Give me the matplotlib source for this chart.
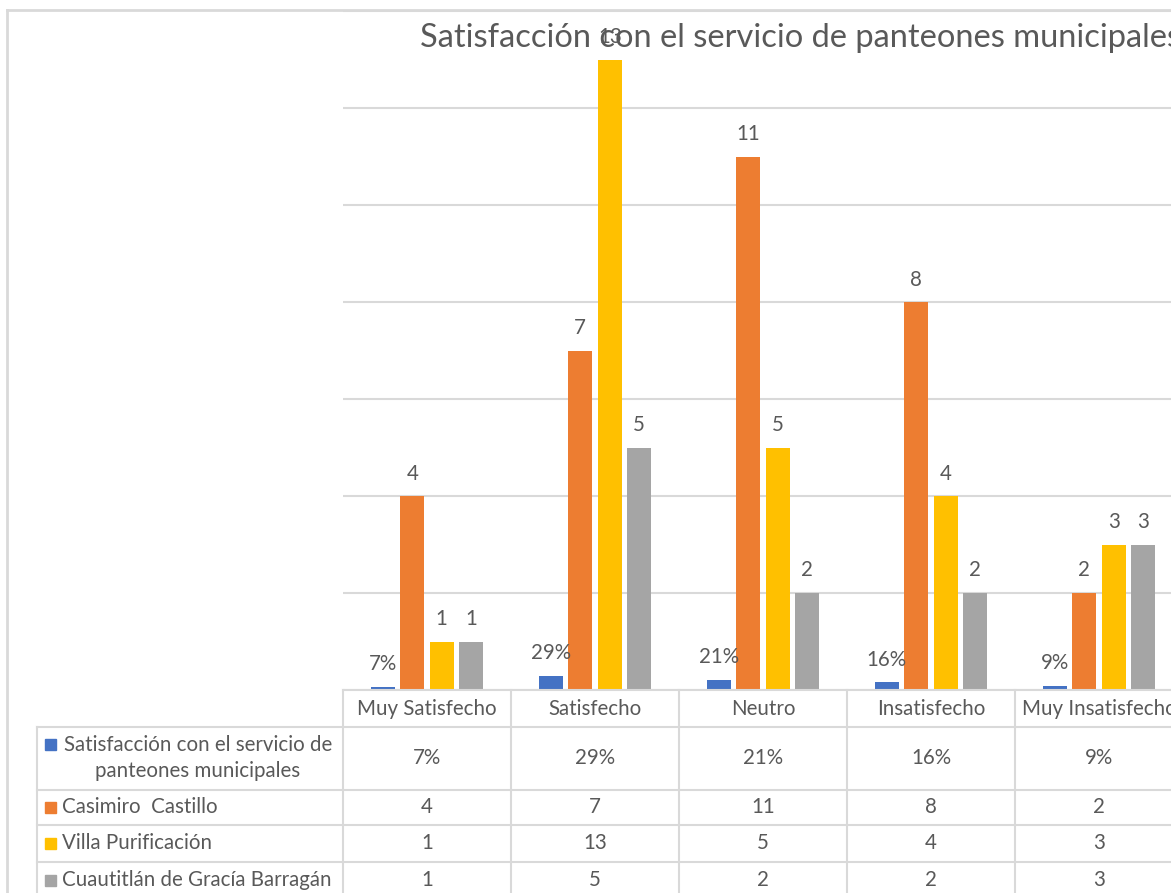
import matplotlib
matplotlib.use("Agg")
import matplotlib.pyplot as plt
from matplotlib.patches import Rectangle
import numpy as np

plt.rcParams['font.family'] = ['Lato', 'DejaVu Sans']

# Data
categories = ["Muy Satisfecho", "Satisfecho", "Neutro", "Insatisfecho", "Muy Insatisfecho"]
series_names = ["Satisfacción con el servicio de\npanteones municipales",
                "Casimiro  Castillo", "Villa Purificación", "Cuautitlán de Gracía Barragán"]
satisfaccion = [0.07, 0.29, 0.21, 0.16, 0.09]
casimiro = [4, 7, 11, 8, 2]
villa = [1, 13, 5, 4, 3]
cuautitlan = [1, 5, 2, 2, 3]
series = [satisfaccion, casimiro, villa, cuautitlan]
colors = ["#4472C4", "#ED7D31", "#FFC000", "#A5A5A5"]

TEXT = "#595959"
GRID = "#D9D9D9"
W, H = 1171, 893
FS = 14.8

fig = plt.figure(figsize=(W / 100, H / 100), dpi=100)

# plot area in pixel terms (extends past right edge, as in the cropped original)
px_left, px_top, px_base, cat_w = 343, 11, 690, 168
ax = fig.add_axes([px_left / W, (H - px_base) / H, 5 * cat_w / W, (px_base - px_top) / H])
ax.set_xlim(-0.5, 4.5)
ax.set_ylim(0, 14)
for s in ax.spines.values():
    s.set_visible(False)
ax.set_xticks([])
ax.set_yticks([])
for g in range(0, 15, 2):
    ax.axhline(g, color=GRID, lw=1.5, zorder=0)

x = np.arange(len(categories))
slot = 0.1756
bw = 0.143
for k, (vals, c) in enumerate(zip(series, colors)):
    pos = x + (k - 1.5) * slot
    ax.bar(pos, vals, width=bw, color=c, zorder=2)
    for xp, v in zip(pos, vals):
        lab = f"{round(v * 100)}%" if k == 0 else f"{v}"
        ax.annotate(lab, (xp, v), xytext=(0, 9), textcoords="offset points",
                    ha="center", va="bottom", fontsize=FS, color=TEXT, zorder=3)


def yf(py):
    # pixel row -> axes fraction
    return (px_base - py) / (px_base - px_top)


tr = ax.get_xaxis_transform()
left_x = -0.5 - (px_left - 37) / cat_w
rows = [690, 727, 790, 825, 862, 900]

# table lines
for i, ry in enumerate(rows[:-1]):
    x0 = -0.5 if i == 0 else left_x
    ax.plot([x0, 4.6], [yf(ry), yf(ry)], transform=tr, color=GRID, lw=1.5, clip_on=False)
for b in np.arange(-0.5, 4.6, 1.0):
    ax.plot([b, b], [yf(690), yf(900)], transform=tr, color=GRID, lw=1.5, clip_on=False)
ax.plot([left_x, left_x], [yf(727), yf(900)], transform=tr, color=GRID, lw=1.5, clip_on=False)

# header
for i, cat in enumerate(categories):
    ax.text(i, yf(709), cat, transform=tr, ha="center", va="center", fontsize=FS, color=TEXT)

# body rows
row_centers = [758, 807, 843, 880]
for k, (name, vals, c) in enumerate(zip(series_names, series, colors)):
    cy = row_centers[k]
    for i, v in enumerate(vals):
        lab = f"{round(v * 100)}%" if k == 0 else f"{v}"
        ax.text(i, yf(cy), lab, transform=tr, ha="center", va="center", fontsize=FS, color=TEXT)
    key_y = 744 if k == 0 else cy
    fig.patches.append(Rectangle((45 / W, (H - key_y - 5.5) / H), 11 / W, 11 / H,
                                 transform=fig.transFigure, color=c))
    if k == 0:
        fig.text(198 / W, (H - cy) / H, name, ha="center", va="center",
                 fontsize=FS, color=TEXT, linespacing=1.35)
    else:
        fig.text(62 / W, (H - cy) / H, name, ha="left", va="center", fontsize=FS, color=TEXT)

# outer chart border
fig.add_artist(plt.Line2D([7 / W, 7 / W], [0, (H - 10) / H], color=GRID, lw=2))
fig.add_artist(plt.Line2D([7 / W, 1], [(H - 10) / H, (H - 10) / H], color=GRID, lw=2))

# title
fig.text(420 / W, (H - 38) / H, "Satisfacción con el servicio de panteones municipales",
         ha="left", va="center", fontsize=23.5, color=TEXT)

fig.savefig("out.png", dpi=100)
